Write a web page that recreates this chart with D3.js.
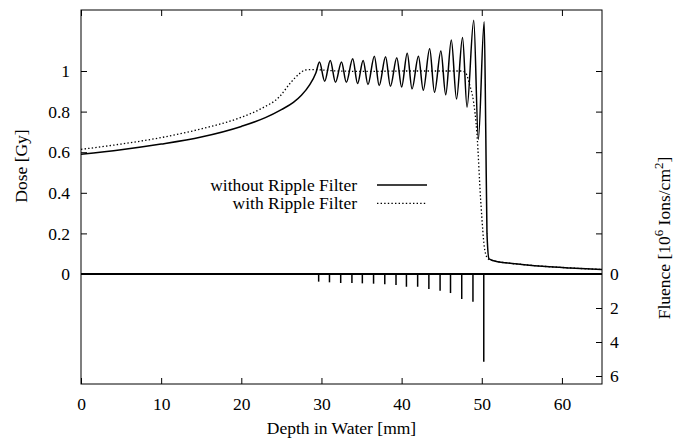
<!DOCTYPE html>
<html>
<head>
<meta charset="utf-8">
<script src="https://cdn.jsdelivr.net/npm/d3@7"></script>
<style>
  body { margin: 0; background: #fff; }
  svg text { font-family: "Liberation Serif", "Times New Roman", serif; font-size: 17.5px; fill: #000; }
</style>
</head>
<body>
<svg id="chart" width="673" height="442"></svg>
<script>
// ---- Data ----
// Depth in water [mm] / dose [Gy], without ripple filter (solid)
const solidDepth = [0, 5, 10, 15, 20, 23, 25, 26.5, 27.5, 28.5, 29.3,
  29.75, 30.4, 31.1, 31.75, 32.5, 33.1, 33.9, 34.5, 35.2, 35.8, 36.6, 37.2, 38.0, 38.6, 39.4, 40.0,
  40.7, 41.3, 42.1, 42.7, 43.5, 44.1, 44.9, 45.5, 46.2, 46.85, 47.6, 48.16, 49.0, 49.57, 50.3,
  50.5, 50.65, 50.9, 51.5, 53, 55, 58, 61, 65];
const solidDose = [0.59, 0.612, 0.64, 0.675, 0.727, 0.77, 0.81, 0.845, 0.88, 0.93, 0.99,
  1.044, 0.949, 1.052, 0.944, 1.044, 0.944, 1.06, 0.938, 1.052, 0.933, 1.073, 0.928, 1.07, 0.925, 1.065, 0.921,
  1.087, 0.912, 1.073, 0.905, 1.11, 0.895, 1.098, 0.883, 1.153, 0.862, 1.165, 0.822, 1.25, 0.663, 1.242,
  0.7, 0.2, 0.075, 0.065, 0.055, 0.047, 0.037, 0.03, 0.022];

// with ripple filter (dotted)
const dottedDepth = [0, 5, 10, 15, 20, 22.5, 24.8, 26.1, 27.2, 28, 29, 32, 36, 40, 44, 47.5, 48.0,
  48.5, 48.95, 49.4, 49.87, 50.4, 50.8, 51.5, 53, 55, 58, 61, 65];
const dottedDose = [0.614, 0.64, 0.672, 0.715, 0.772, 0.815, 0.875, 0.94, 0.985, 1.005, 1.007, 1.0, 0.998, 1.0, 1.0, 1.0, 0.99,
  0.93, 0.855, 0.69, 0.36, 0.113, 0.074, 0.065, 0.055, 0.047, 0.037, 0.03, 0.022];

// Fluence bars [10^6 ions/cm^2]
const barDepth = [29.65, 31.0, 32.4, 33.8, 35.1, 36.5, 37.9, 39.3, 40.6, 42.0, 43.4, 44.8, 46.1, 47.5, 48.9, 50.25];
const barFluence = [0.45, 0.49, 0.53, 0.53, 0.55, 0.57, 0.61, 0.65, 0.75, 0.75, 0.88, 0.98, 1.12, 1.47, 1.63, 5.16];

const xTicks = [0, 10, 20, 30, 40, 50, 60];
const yTicks = [0, 0.2, 0.4, 0.6, 0.8, 1];
const yTickLabels = ["0", "0.2", "0.4", "0.6", "0.8", "1"];
const y2Ticks = [0, 2, 4, 6];
const y2TickLabels = ["0", "2", "4", "6"];
const legendLabels = ["without Ripple Filter", "with Ripple Filter"];

// ---- Layout ----
const L = 81, R = 602, T = 10, B = 384;
const svg = d3.select("#chart");

const x = d3.scaleLinear().domain([0, 65]).range([L, R]);
const y = d3.scaleLinear().domain([0, 1]).range([274, 71]);
const y2 = d3.scaleLinear().domain([0, 6]).range([274, 376]);

// Axes (inward ticks)
svg.append("g").attr("transform", `translate(0,${B})`)
  .call(d3.axisBottom(x).tickValues(xTicks).tickSize(-6).tickSizeOuter(0).tickPadding(14));
svg.append("g").attr("transform", `translate(0,${T})`)
  .call(d3.axisTop(x).tickValues(xTicks).tickSize(-6).tickSizeOuter(0).tickFormat(""));
svg.append("g").attr("transform", `translate(${L},0)`)
  .call(d3.axisLeft(y).tickValues(yTicks).tickSize(-6).tickSizeOuter(0).tickPadding(11)
    .tickFormat((d, i) => yTickLabels[i]));
svg.append("g").attr("transform", `translate(${R},0)`)
  .call(d3.axisRight(y).tickValues(yTicks).tickSize(-6).tickSizeOuter(0).tickFormat(""));
svg.append("g").attr("transform", `translate(${R},0)`)
  .call(d3.axisRight(y2).tickValues(y2Ticks).tickSize(-6).tickSizeOuter(0).tickPadding(8)
    .tickFormat((d, i) => y2TickLabels[i]));

svg.selectAll(".domain").remove();
svg.selectAll(".tick line").attr("stroke", "#000").attr("stroke-width", 1);
svg.selectAll(".tick text").attr("font-size", "17.5px")
  .attr("font-family", '"Liberation Serif", "Times New Roman", serif').attr("fill", "#000");

// Border
svg.append("rect").attr("x", L).attr("y", T).attr("width", R - L).attr("height", B - T)
  .attr("fill", "none").attr("stroke", "#000").attr("stroke-width", 1);

// Zero line
svg.append("line").attr("x1", x(0)).attr("x2", x(65)).attr("y1", y(0)).attr("y2", y(0))
  .attr("stroke", "#000").attr("stroke-width", 1.8);

// Fluence bars
svg.append("g").selectAll("line").data(barDepth).join("line")
  .attr("x1", d => x(d)).attr("x2", d => x(d))
  .attr("y1", y2(0)).attr("y2", (d, i) => y2(barFluence[i]))
  .attr("stroke", "#000").attr("stroke-width", 1.5);

// Curves
const line = d3.line().x(d => x(d[0])).y(d => y(d[1])).curve(d3.curveMonotoneX);
const dottedData = dottedDepth.map((d, i) => [d, dottedDose[i]]);
const solidData = solidDepth.map((d, i) => [d, solidDose[i]]);

svg.append("path").datum(dottedData).attr("d", line)
  .attr("fill", "none").attr("stroke", "#000").attr("stroke-width", 1.3)
  .attr("stroke-dasharray", "1.4,2.2");
svg.append("path").datum(solidData).attr("d", line)
  .attr("fill", "none").attr("stroke", "#000").attr("stroke-width", 1.5);

// Legend
const leg = svg.append("g");
[0, 1].forEach(i => {
  const cy = 185 + i * 18.3;
  leg.append("text").attr("x", 357).attr("y", cy + 6).attr("text-anchor", "end").text(legendLabels[i]);
  leg.append("line").attr("x1", 377).attr("x2", 427).attr("y1", cy).attr("y2", cy)
    .attr("stroke", "#000").attr("stroke-width", i === 0 ? 1.5 : 1.3)
    .attr("stroke-dasharray", i === 0 ? null : "1.4,2.2");
});

// Axis labels
svg.append("text").attr("x", (L + R) / 2).attr("y", 434).attr("text-anchor", "middle")
  .text("Depth in Water [mm]");
svg.append("text").attr("transform", "translate(27,166) rotate(-90)").attr("text-anchor", "middle")
  .text("Dose [Gy]");
const fl = svg.append("text").attr("transform", "translate(670,238) rotate(-90)").attr("text-anchor", "middle");
fl.append("tspan").text("Fluence [10");
fl.append("tspan").attr("dy", -7).attr("font-size", "13px").text("6");
fl.append("tspan").attr("dy", 7).text(" Ions/cm");
fl.append("tspan").attr("dy", -7).attr("font-size", "13px").text("2");
fl.append("tspan").attr("dy", 7).text("]");
</script>
</body>
</html>
